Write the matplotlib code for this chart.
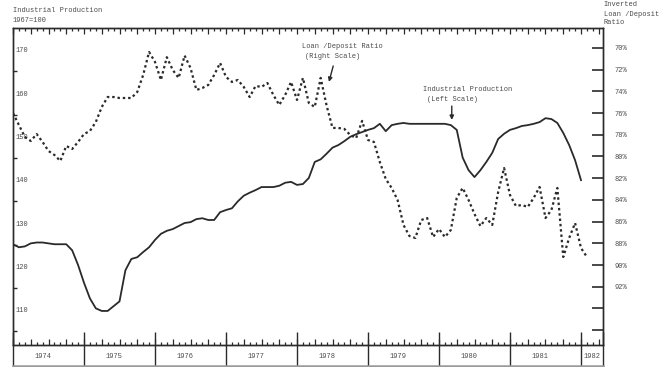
import numpy as np
import matplotlib
matplotlib.use("Agg")
import matplotlib.pyplot as plt

plt.rcParams['font.family'] = ['Liberation Mono', 'DejaVu Sans Mono']

# monthly series, Jan 1974 onward
ind_prod = [125.1, 124.4, 124.6, 125.3, 125.5, 125.5, 125.3, 125.1, 125.1, 125.1, 123.7, 120.3,
            116.2, 112.6, 110.3, 109.7, 109.7, 110.8, 111.9, 119.1, 121.7, 122.1, 123.3, 124.4,
            126.1, 127.5, 128.2, 128.6, 129.3, 130.0, 130.2, 130.9, 131.1, 130.7, 130.7, 132.5,
            133.0, 133.4, 135.0, 136.3, 137.0, 137.6, 138.3, 138.3, 138.3, 138.6, 139.3, 139.5,
            138.8, 139.0, 140.4, 144.1, 144.7, 146.0, 147.4, 148.0, 148.9, 149.9, 150.5, 151.0,
            151.5, 151.9, 152.9, 151.2, 152.6, 152.9, 153.1, 152.9, 152.9, 152.9, 152.9, 152.9,
            152.9, 152.9, 152.6, 151.5, 145.1, 142.2, 140.6, 142.2, 144.1, 146.2, 149.4, 150.6,
            151.5, 151.9, 152.4, 152.6, 152.9, 153.3, 154.2, 154.0, 153.1, 150.8, 148.0, 144.5,
            139.9]
loan_dep = [76.0, 77.1, 78.2, 78.57, 77.93, 78.66, 79.49, 79.86, 80.41, 79.03, 79.31, 78.66,
            77.93, 77.65, 76.82, 75.44, 74.52, 74.52, 74.61, 74.61, 74.61, 74.06, 72.49, 70.37,
            71.29, 72.95, 70.85, 72.03, 72.76, 70.7, 71.84, 73.87, 73.69, 73.41, 72.49, 71.38,
            72.67, 73.13, 72.95, 73.59, 74.52, 73.5, 73.59, 73.23, 74.33, 75.25, 74.33, 73.13,
            74.79, 72.76, 75.07, 75.44, 72.76, 75.3, 77.37, 77.37, 77.46, 78.02, 78.3, 76.72,
            78.48, 78.66, 80.51, 82.07, 82.9, 84.01, 86.31, 87.33, 87.51, 85.85, 85.67, 87.42,
            86.68, 87.42, 86.77, 83.82, 82.9, 84.01, 85.3, 86.41, 85.67, 86.31, 83.27, 81.06,
            83.55, 84.56, 84.47, 84.65, 83.82, 82.81, 85.67, 84.93, 82.9, 89.26, 87.51, 86.13,
            88.43, 89.26]
years = list(range(1974, 1983))
left_ticks = [110, 120, 130, 140, 150, 160, 170]
right_ticks = [70, 72, 74, 76, 78, 80, 82, 84, 86, 88, 90, 92, 94, 96]
right_labels = ['70%', '72%', '74%', '76%', '78%', '80%', '82%', '84%', '86%', '88%', '90%', '92%', '', '']

ip_dates = 1974 + np.arange(len(ind_prod)) / 12
ld_dates = 1974 + np.arange(len(loan_dep)) / 12

ink = '#2a2a2a'
txt = '#4a4a4a'

W, H = 667, 367
fig = plt.figure(figsize=(W / 100, H / 100), dpi=100)
ax = fig.add_axes([13 / W, 22 / H, 590 / W, 317 / H])
ax2 = ax.twinx()

x_end = 1974 + 590 / 71
ax.set_xlim(1974, x_end)
ax.set_ylim(101.84, 175.02)
ax2.set_ylim(97.37, 68.16)

ax.plot(ip_dates, ind_prod, color=ink, lw=1.3)
ax2.plot(ld_dates, loan_dep, color=ink, lw=1.6, linestyle=(0, (1.1, 1.3)))

for a in (ax, ax2):
    for s in a.spines.values():
        s.set_color(ink)
        s.set_linewidth(1.0)

# x ticks: quarterly and monthly, top and bottom
ax.set_xticks(np.arange(1974, x_end, 0.25))
ax.set_xticks(np.arange(1974, x_end, 1 / 12), minor=True)
ax.tick_params(axis='x', which='major', direction='in', length=4.5, width=0.9,
               top=True, labelbottom=False, color=ink)
ax.tick_params(axis='x', which='minor', direction='in', length=2.5, width=0.9,
               top=True, color=ink)

# year boxes under the axis
xtr = ax.get_xaxis_transform()
ax.vlines(years + [x_end], -0.069, 0.041, transform=xtr, clip_on=False, color=ink, lw=1.0)
ax.plot([1974, x_end], [-0.066, -0.066], transform=xtr, clip_on=False, color='#9a9a9a', lw=1.8)
for y in years:
    xc = y + 0.42 if y < 1982 else (1982 + x_end) / 2
    ax.text(xc, -0.035, str(y), transform=xtr, ha='center', va='center', fontsize=5, color=txt)

# left scale, labels inside
ax.set_yticks(left_ticks)
ax.set_yticklabels([str(v) for v in left_ticks])
ax.set_yticks(np.arange(105, 170, 10), minor=True)
ax.tick_params(axis='y', which='major', length=0, pad=-1.5, labelsize=5, labelcolor=txt)
ax.tick_params(axis='y', which='minor', direction='in', length=3, width=1.0, color=ink)
for lab in ax.get_yticklabels():
    lab.set_horizontalalignment('left')

# right scale, inverted ratio
ax2.set_yticks(right_ticks)
ax2.set_yticklabels(right_labels)
ax2.tick_params(axis='y', direction='in', length=8, width=1.2, pad=8.5,
                labelsize=5, labelcolor=txt, color=ink)

# annotations
ax2.text(1978.07, 69.82, 'Loan /Deposit Ratio', fontsize=5, color=txt, va='center')
ax2.text(1978.11, 70.83, '(Right Scale)', fontsize=5, color=txt, va='center')
ax2.annotate('', xy=(1978.45, 73.13), xytext=(1978.51, 71.66),
             arrowprops=dict(arrowstyle='-|>', lw=1.0, color=ink, mutation_scale=6,
                             shrinkA=0, shrinkB=0))
ax.text(1979.77, 160.9, 'Industrial Production', fontsize=5, color=txt, va='center')
ax.text(1979.83, 158.4, '(Left Scale)', fontsize=5, color=txt, va='center')
ax.annotate('', xy=(1980.18, 153.8), xytext=(1980.18, 157.0),
            arrowprops=dict(arrowstyle='-|>', lw=1.0, color=ink, mutation_scale=6,
                            shrinkA=0, shrinkB=0))

# headers
fig.text(13 / W, 1 - 11 / H, 'Industrial Production', fontsize=5, color=txt, va='center')
fig.text(13 / W, 1 - 20 / H, '1967=100', fontsize=5, color=txt, va='center')
fig.text(603 / W, 1 - 5 / H, 'Inverted', fontsize=5, color=txt, va='center')
fig.text(604 / W, 1 - 14 / H, 'Loan /Deposit', fontsize=5, color=txt, va='center')
fig.text(604 / W, 1 - 23 / H, 'Ratio', fontsize=5, color=txt, va='center')

fig.savefig('out.png', dpi=100)
